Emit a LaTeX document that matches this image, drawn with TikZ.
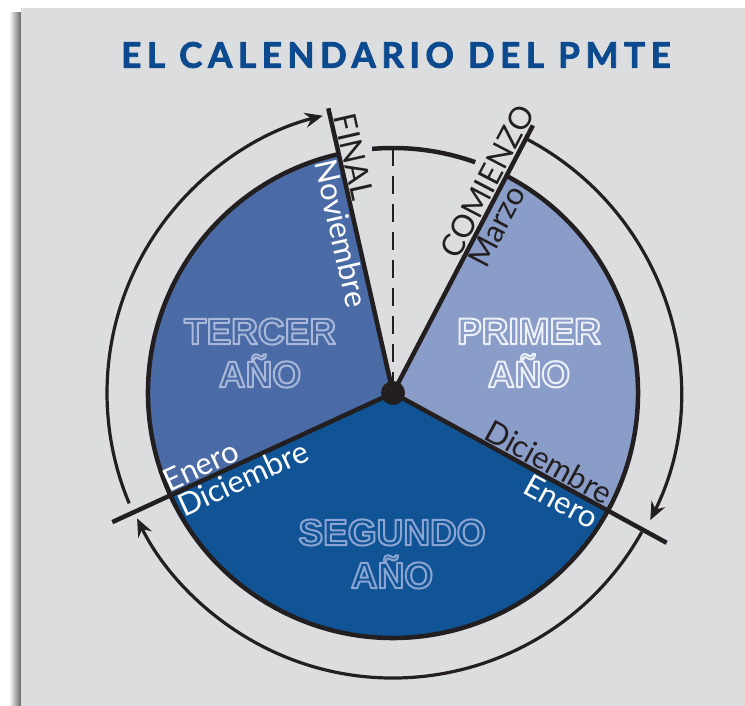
\documentclass[tikz,border=0pt]{standalone}
\usepackage{fontspec}
\setmainfont{Lato}
\newfontfamily\titlefont[LetterSpace=16,FakeBold=2.5]{Lato}
\newfontfamily\yearfont{Liberation Sans}
\usetikzlibrary{arrows.meta}
\definecolor{panel}{HTML}{DCDDDF}
\definecolor{titleblue}{HTML}{0B4A8E}
\definecolor{primer}{HTML}{8A9DC8}
\definecolor{segundo}{HTML}{105496}
\definecolor{tercer}{HTML}{4A6BA5}
\definecolor{ink}{HTML}{231F20}
\definecolor{primerline}{HTML}{EEF0F8}
\definecolor{tercerline}{HTML}{A9B7D8}
\definecolor{segundoline}{HTML}{8CA4D2}
\newcommand\hollowtxt[1]{\special{pdf:literal direct 1 Tr 2 w}#1\special{pdf:literal direct 0 Tr}}
\tikzset{
  titlestyle/.style={font=\titlefont\bfseries\fontsize{35}{35}\selectfont, text=titleblue, inner sep=0pt},
  border/.style={draw=ink, line width=4.5pt},
  radial/.style={draw=ink, line width=4.5pt, line cap=butt},
  ring/.style={draw=ink, line width=3.2pt},
  tip/.style={-{Stealth[length=18pt,width=15pt,inset=6pt]}},
  dashline/.style={draw=ink, line width=2pt, dash pattern=on 18pt off 10pt},
  lbl/.style={font=\fontsize{31}{31}\selectfont, inner sep=3pt},
  yearlbl/.style={font=\yearfont\bfseries\fontsize{37}{43}\selectfont, align=center, inner sep=0pt}
}
\begin{document}
\begin{tikzpicture}[x=1pt,y=1pt,line join=round]
\useasboundingbox (0,0) rectangle (745,706);
\fill[white] (0,0) rectangle (745,706);
\shade[left color=white, right color=black!60] (9,0) rectangle (21,693);
\fill[panel] (21,0) rectangle (745,698);
\node[titlestyle] (title) at (396,651) {EL CALENDARIO DEL PMTE};
\begin{scope}[shift={(393,313)}]
  \coordinate (C) at (0,0);
  % sectors
  \fill[primer] (C) -- (62.4:245) arc[start angle=62.4, end angle=-28.7, radius=245] -- cycle;
  \fill[segundo] (C) -- (-28.7:245) arc[start angle=-28.7, end angle=-155.3, radius=245] -- cycle;
  \fill[tercer] (C) -- (204.7:245) arc[start angle=204.7, end angle=102.8, radius=245] -- cycle;
  % circle border
  \draw[border] (62.4:245) arc[start angle=62.4, end angle=-257.2, radius=245];
  \draw[border] (94.9:245) arc[start angle=94.9, end angle=70.4, radius=245];
  % dashed centre line
  \coordinate (top) at (90:245);
  \draw[dashline] (top) -- (C);
  % radial lines
  \coordinate (finalEnd) at (102.8:292);
  \coordinate (comienzoEnd) at (62.4:302);
  \coordinate (rightEnd) at (-28.7:312);
  \coordinate (leftEnd) at (204.7:309);
  \draw[radial] (C) -- (finalEnd);
  \draw[radial] (C) -- (comienzoEnd);
  \draw[radial] (C) -- (rightEnd);
  \draw[radial] (C) -- (leftEnd);
  % outer ring arrows
  \draw[ring, tip] (62.4:287) arc[start angle=62.4, end angle=-26.3, radius=287];
  \draw[ring, tip] (-29.2:285) arc[start angle=-29.2, end angle=-153.9, radius=285];
  \draw[ring, tip] (202.7:286) arc[start angle=202.7, end angle=104.2, radius=286];
  % line labels
  \node[lbl, text=ink, rotate=-77.2, anchor=south] (final) at (102.8:239) {FINAL};
  \node[lbl, text=white, rotate=-77.2, anchor=north] (noviembre) at (102.8:167) {Noviembre};
  \node[lbl, text=ink, rotate=62.4, anchor=south] (comienzo) at (62.4:231) {COMIENZO};
  \node[lbl, text=ink, rotate=62.4, anchor=north] (marzo) at (62.4:196) {Marzo};
  \node[lbl, text=ink, rotate=-28.7, anchor=south] (dicR) at (-28.7:170) {Diciembre};
  \node[lbl, text=white, rotate=-28.7, anchor=north] (eneroR) at (-28.7:200) {Enero};
  \node[lbl, text=white, rotate=24.7, anchor=south] (eneroL) at (204.7:205) {Enero};
  \node[lbl, text=white, rotate=24.7, anchor=north] (dicL) at (204.7:172) {Diciembre};
  % year labels
  \node[yearlbl, text=primerline] (primerYear) at (136,40) {\hollowtxt{PRIMER\\AÑO}};
  \node[yearlbl, text=tercerline] (tercerYear) at (-133,40) {\hollowtxt{TERCER\\AÑO}};
  \node[yearlbl, text=segundoline] (segundoYear) at (-1,-161) {\hollowtxt{SEGUNDO\\AÑO}};
  % hub
  \fill[ink] (C) circle (12);
\end{scope}
\end{tikzpicture}
\end{document}
